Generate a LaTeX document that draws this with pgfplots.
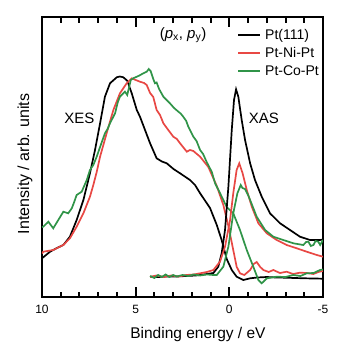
\documentclass[border=0pt]{standalone}
\usepackage{pgfplots}
\pgfplotsset{compat=1.18}
\usepackage{fontspec}
\setmainfont{Liberation Sans}
\definecolor{ptred}{RGB}{232,72,68}
\definecolor{ptgreen}{RGB}{48,148,72}

\begin{document}
\begin{tikzpicture}
\begin{axis}[
    width=281pt, height=280pt, scale only axis,
    x dir=reverse,
    xmin=-5, xmax=10, ymin=0, ymax=280,
    xtick={-5,0,5,10}, minor xtick={-4,-3,-2,-1,1,2,3,4,6,7,8,9},
    ytick=\empty,
    tick align=inside,
    major tick length=10pt, minor tick length=5.5pt,
    axis line style={black, line width=1.6pt},
    tick style={black, line width=2pt},
    /pgf/number format/assume math mode=true,
    xticklabel style={font=\fontsize{12}{14}\selectfont, yshift=-5pt},
    xlabel={Binding energy / eV},
    ylabel={Intensity / arb. units},
    xlabel style={at={(axis description cs:0.555,0)}, anchor=base, yshift=-41pt,
        font=\fontsize{15.5}{18}\selectfont},
    ylabel style={at={(axis description cs:-0.0605,0.475)}, anchor=center,
        font=\fontsize{16}{19}\selectfont},
    legend cell align=left,
    legend style={at={(axis description cs:0.695,0.965)}, anchor=north west,
        draw=none, fill=none, inner sep=0pt, row sep=2.6pt,
        font=\fontsize{14}{17}\selectfont},
    legend image code/.code={\draw[#1] (0pt,0pt) -- (22pt,0pt); \path (24pt,0pt);},
]
% XES
\addplot[black, line width=1.7pt] coordinates {
(10.0,38.7) (9.57,45.3) (9.2,49) (8.86,52) (8.51,60.3) (8.15,77) (7.79,97)
(7.44,123.7) (7.17,147) (6.90,173.7) (6.64,200.3) (6.37,213.7) (6.01,219.7)
(5.84,220.5) (5.66,219.7) (5.45,216.3) (5.21,203.7) (4.94,187) (4.77,180.3)
(4.50,167) (4.23,153.7) (3.88,138.7) (3.60,135.5) (3.34,133.7) (2.98,128)
(2.63,123.7) (2.10,117) (1.83,112) (1.56,103.7) (1.03,89) (0.67,72) (0.41,57)
(0.14,38) (-0.13,27) (-0.39,20.3) (-0.75,17) (-1.11,18.7) (-1.5,19.5) (-2.0,20)
(-2.5,19.5) (-3.0,19.3) (-3.5,19) (-4.0,18.7) (-4.5,18.5) (-5.0,18.3)
};
\addlegendentry{Pt(111)}
\addplot[ptred, line width=1.7pt] coordinates {
(10.0,43.5) (9.93,45.3) (9.40,47) (8.86,52) (8.51,58.7) (8.15,70.3) (7.79,83.7)
(7.44,100.3) (7.26,112) (7.08,125) (6.90,140.3) (6.55,163.7) (6.19,187)
(5.84,203.7) (5.48,213.7) (5.21,218.7) (5.0,217) (4.77,215.3) (4.55,214)
(4.41,212) (4.23,204) (4.06,200) (3.88,187) (3.70,182) (3.52,173.7) (3.26,167)
(2.99,160.3) (2.80,158) (2.63,153.7) (2.27,145.3) (2.10,147) (1.92,146)
(1.56,140.3) (1.12,130) (0.67,111) (0.32,92) (0.05,71) (-0.21,47) (-0.39,30.3)
(-0.57,23.7) (-0.80,22) (-1.11,27) (-1.30,33) (-1.46,35) (-1.65,30) (-1.82,27)
(-2.1,25) (-2.35,27) (-2.7,24) (-3.06,25.3) (-3.4,23) (-3.77,24.3) (-4.13,24)
(-4.49,23) (-4.75,25) (-5.0,26)
};
\addlegendentry{Pt-Ni-Pt}
\addplot[ptgreen, line width=1.7pt] coordinates {
(10.0,70) (9.93,70.3) (9.66,75.3) (9.40,68.7) (9.13,77) (8.86,85.3) (8.60,83.7)
(8.41,88.7) (8.30,94) (8.15,102) (7.88,105.3) (7.61,117) (7.44,127) (7.26,132)
(7.08,140.3) (6.90,150) (6.64,163.7) (6.50,168) (6.37,173.7) (6.10,183.7)
(5.95,195) (5.84,200.3) (5.57,205.3) (5.45,202) (5.26,217) (5.1,219) (4.94,220.3)
(4.8,221.5) (4.59,223.7) (4.41,225.3) (4.30,228) (4.20,226) (4.06,218)
(3.97,213.7) (3.88,214.5) (3.75,208) (3.52,200.3) (3.35,197) (3.17,193.7)
(2.95,189) (2.72,185.3) (2.60,183.5) (2.46,180.3) (2.30,176) (2.19,170.3)
(1.92,160.3) (1.75,156) (1.56,147) (1.40,143) (1.21,135) (1.03,128.5)
(0.94,125.3) (0.76,113.7) (0.50,104) (0.14,90) (-0.21,83.7) (-0.57,67)
(-0.93,47) (-1.28,30.3) (-1.55,17) (-1.73,13.7) (-2.0,18.7) (-2.53,20.3)
(-3.0,20) (-3.42,22) (-3.8,21) (-4.13,23.7) (-4.5,24) (-4.84,27) (-5.0,27.5)
};
\addlegendentry{Pt-Co-Pt}
% XAS
\addplot[black, line width=1.7pt, forget plot] coordinates {
(4.23,20.3) (3.8,20) (3.3,20.5) (2.8,20.5) (2.3,21) (1.8,21.5) (1.56,22)
(1.2,23) (0.85,24) (0.59,30.3) (0.41,43.7) (0.23,67) (0.05,110.3) (-0.13,167)
(-0.25,197) (-0.36,207.7) (-0.48,200.3) (-0.66,177) (-0.84,157) (-1.11,133.7)
(-1.37,117) (-1.73,100.3) (-2.17,83.7) (-2.71,73.7) (-3.24,67) (-3.77,60.3)
(-4.31,57) (-4.84,57) (-5.0,57.5)
};
\addplot[ptred, line width=1.7pt, forget plot] coordinates {
(4.23,20) (3.9,21.5) (3.5,20) (3.1,21.5) (2.7,20.5) (2.3,22) (1.9,22.5)
(1.56,23.7) (1.2,25) (0.85,27) (0.50,35.3) (0.23,50.3) (-0.04,77) (-0.21,103.7)
(-0.39,127) (-0.53,133.7) (-0.71,123.7) (-0.93,107) (-1.20,90.3) (-1.55,73.7)
(-2.00,63.7) (-2.53,57) (-3.06,52) (-3.60,48.7) (-4.13,45.3) (-4.67,42)
(-5.0,40.3)
};
\addplot[ptgreen, line width=1.7pt, forget plot] coordinates {
(4.23,21) (4.0,19) (3.8,22) (3.6,20) (3.4,22.5) (3.2,20) (3.0,22) (2.8,20.5)
(2.5,22) (2.2,21) (1.9,22.5) (1.56,21.5) (1.2,22.5) (0.85,22) (0.67,22)
(0.32,30.3) (0.05,50.3) (-0.21,83.7) (-0.43,103.7) (-0.61,112) (-0.70,109)
(-0.84,108) (-1.0,102) (-1.11,97) (-1.46,80.3) (-1.91,67) (-2.35,60.3)
(-2.88,57) (-3.42,53.7) (-3.95,52) (-4.10,55) (-4.22,55.3) (-4.35,51)
(-4.49,52) (-4.6,56) (-4.75,55.3) (-4.85,52) (-5.0,57)
};
\node[font=\fontsize{15}{18}\selectfont] at (axis description cs:0.502,0.936)
    {(\textit{p}\textsubscript{x}, \textit{p}\textsubscript{y})};
\node[font=\fontsize{15}{18}\selectfont] at (axis description cs:0.133,0.639) {XES};
\node[font=\fontsize{15}{18}\selectfont] at (axis description cs:0.79,0.639) {XAS};
\end{axis}
\pgfresetboundingbox
\path ([xshift=-42pt,yshift=-52pt]current axis.south west)
    rectangle ([xshift=23pt,yshift=17pt]current axis.north east);
\end{tikzpicture}
\end{document}
